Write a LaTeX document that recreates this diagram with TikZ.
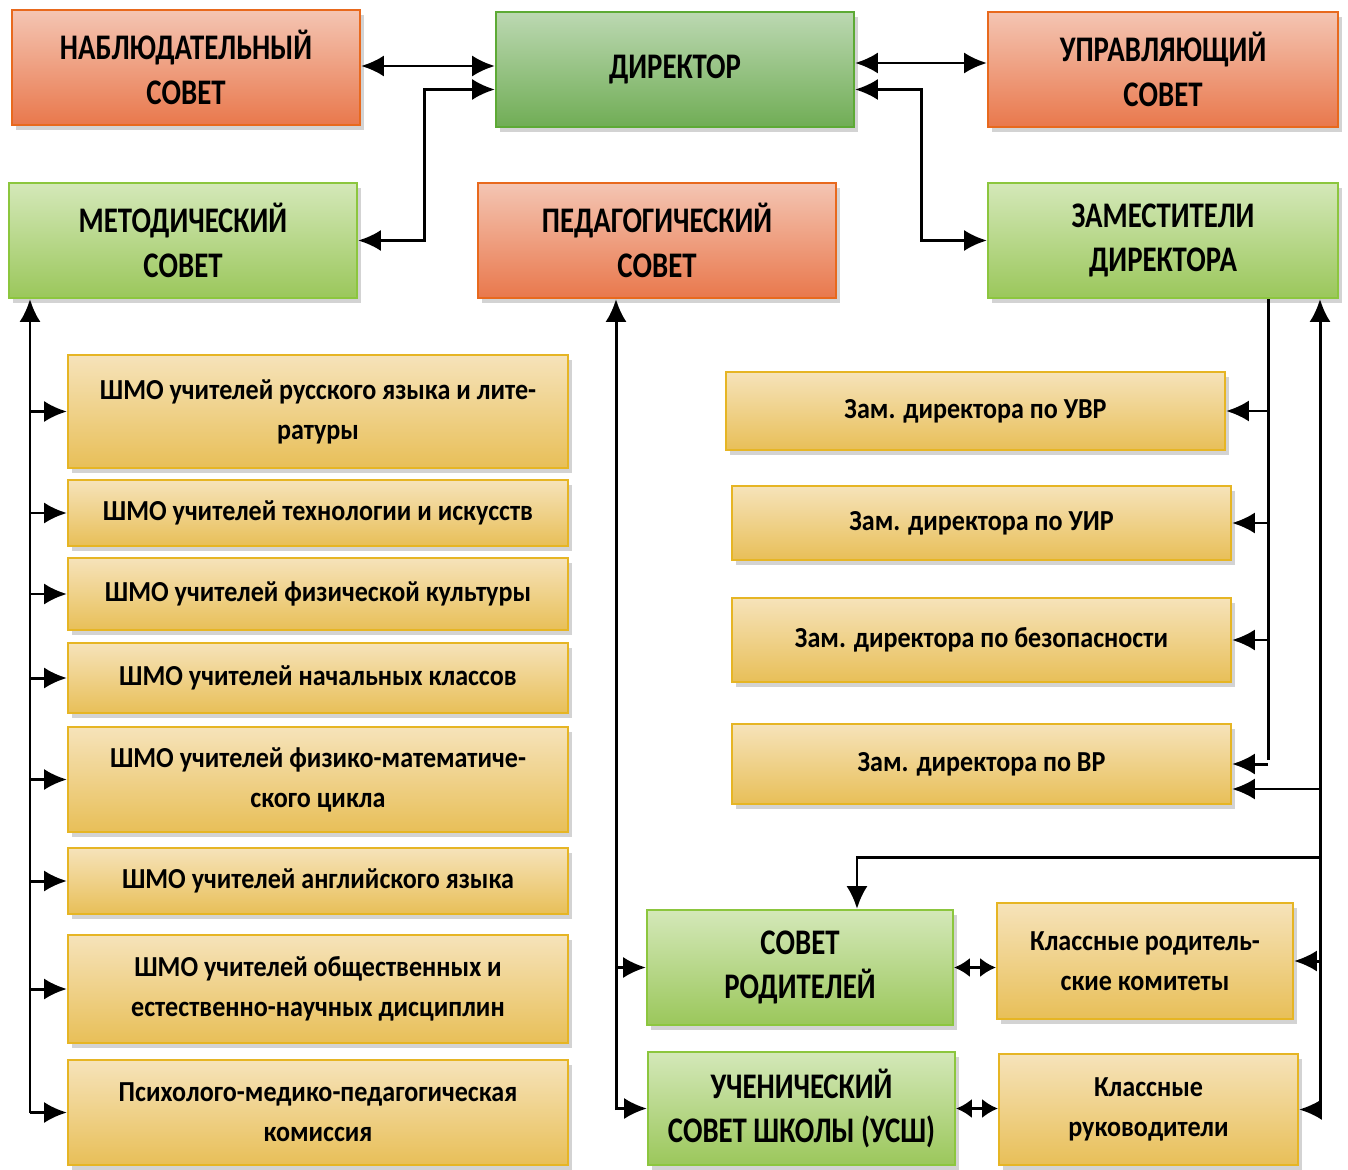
\documentclass[tikz,border=0pt]{standalone}
\usepackage{fontspec}
\setmainfont{Carlito}
\newfontfamily\headfont{Carlito}[FakeStretch=0.80]
\newfontfamily\bodyfont{Carlito}[FakeStretch=0.90]
\usepackage{tikz}
\usetikzlibrary{arrows.meta,shadows,calc}

\definecolor{orbord}{HTML}{E8691D}
\definecolor{ortop}{HTML}{F4C5B3}
\definecolor{orbot}{HTML}{E9784C}
\definecolor{dgbord}{HTML}{5DAA35}
\definecolor{dgtop}{HTML}{BCD8B2}
\definecolor{dgbot}{HTML}{70AD55}
\definecolor{lgbord}{HTML}{8CC63E}
\definecolor{lgtop}{HTML}{D4E8B9}
\definecolor{lgbot}{HTML}{9BC75B}
\definecolor{yebord}{HTML}{E6B524}
\definecolor{yetop}{HTML}{F6E3BA}
\definecolor{yebot}{HTML}{E8BF58}

\begin{document}
\begin{tikzpicture}[x=0.02cm, y=-0.02cm, >={Latex[length=13pt,width=12pt]},
	box/.style={draw, line width=1.2pt, align=center,
		drop shadow={shadow xshift=2.5pt, shadow yshift=-3pt, opacity=0.35}},
	sz/.style 2 args={minimum width=#1*0.02cm, minimum height=#2*0.02cm},
	big/.style={font=\headfont\bfseries\fontsize{20.5}{25.5}\selectfont},
	small/.style={font=\bodyfont\bfseries\fontsize{16.5}{22.7}\selectfont},
	orangebox/.style={box, big, draw=orbord, top color=ortop, bottom color=orbot},
	dirbox/.style={box, big, draw=dgbord, top color=dgtop, bottom color=dgbot},
	greenbox/.style={box, big, draw=lgbord, top color=lgtop, bottom color=lgbot},
	yellowbox/.style={box, small, draw=yebord, top color=yetop, bottom color=yebot},
	link/.style={line width=1.7pt},
	shortlink/.style={line width=1.7pt, >={Latex[length=9pt,width=11pt]}}]
		\useasboundingbox (0,0) rectangle (1348,1169);

		% top rows
		\node[orangebox, sz={348}{115}] (nab) at (186,67.5) {НАБЛЮДАТЕЛЬНЫЙ\\СОВЕТ};
		\node[dirbox, sz={358}{115}] (dir) at (675,69.5) {ДИРЕКТОР};
		\node[orangebox, sz={350}{115}] (upr) at (1163,69.5) {УПРАВЛЯЮЩИЙ\\СОВЕТ};
		\node[greenbox, sz={348}{115}] (met) at (183,240.5) {МЕТОДИЧЕСКИЙ\\СОВЕТ};
		\node[orangebox, sz={358}{115}] (ped) at (657,240.5) {ПЕДАГОГИЧЕСКИЙ\\СОВЕТ};
		\node[greenbox, sz={350}{115}] (zam) at (1163,240.5) {ЗАМЕСТИТЕЛИ\\ДИРЕКТОРА};

		% methodical unions
		\node[yellowbox, sz={500}{113}] (shmo1) at (318,411.5) {ШМО учителей русского языка и лите-\\ратуры};
		\node[yellowbox, sz={500}{66}] (shmo2) at (318,513) {ШМО учителей технологии и искусств};
		\node[yellowbox, sz={500}{72}] (shmo3) at (318,594) {ШМО учителей физической культуры};
		\node[yellowbox, sz={500}{70}] (shmo4) at (318,678) {ШМО учителей начальных классов};
		\node[yellowbox, sz={500}{105}] (shmo5) at (318,779.5) {ШМО учителей физико-математиче-\\ского цикла};
		\node[yellowbox, sz={500}{66}] (shmo6) at (318,881) {ШМО учителей английского языка};
		\node[yellowbox, sz={500}{108}] (shmo7) at (318,989) {ШМО учителей общественных и\\естественно-научных дисциплин};
		\node[yellowbox, sz={500}{105}] (shmo8) at (318,1112.5) {Психолого-медико-педагогическая\\комиссия};

		% deputies
		\node[yellowbox, sz={499}{78}] (uvr) at (975.5,411) {Зам. директора по УВР};
		\node[yellowbox, sz={499}{74}] (uir) at (981.5,523) {Зам. директора по УИР};
		\node[yellowbox, sz={499}{84}] (bez) at (981.5,640) {Зам. директора по безопасности};
		\node[yellowbox, sz={499}{80}] (vr) at (981.5,764) {Зам. директора по ВР};

		% parents and pupils
		\node[greenbox, sz={306}{115}] (sovrod) at (800,967.5) {СОВЕТ\\РОДИТЕЛЕЙ};
		\node[greenbox, sz={307}{113}] (uch) at (801.5,1108.5) {УЧЕНИЧЕСКИЙ\\СОВЕТ ШКОЛЫ (УСШ)};
		\node[yellowbox, sz={296}{116}] (krk) at (1145,961) {Классные родитель-\\ские комитеты};
		\node[yellowbox, sz={299}{111}] (kruk) at (1148.5,1109.5) {Классные\\руководители};

		\coordinate (lbus) at (30,1113);
		\coordinate (pbus) at (616,1110);
		\coordinate (zbus) at (1268,760);
		\coordinate (rbus) at (1320,1108);
		\coordinate (vrin) at ([yshift=-0.5cm]vr.east);
		\coordinate (srtop) at ([xshift=1.14cm]sovrod.north);

		% director links
		\draw[link,<->] ([yshift=0.03cm]nab.east) -- ([yshift=0.03cm]nab.east -| dir.west);
		\draw[link,<->] ([yshift=0.13cm]dir.east) -- ([yshift=0.13cm]dir.east -| upr.west);
		\draw[link,<->] ([yshift=-0.4cm]dir.west) -- ++(-70,0) |- (met.east);
		\draw[link,<->] ([yshift=-0.4cm]dir.east) -- ++(66,0) |- (zam.west);

		% methodical council bus
		\draw[link,->] (lbus) -- (lbus |- met.south);
		\foreach \s in {shmo1,shmo2,shmo3,shmo4,shmo5,shmo6,shmo7,shmo8}
			\draw[link,->] (lbus |- \s.west) -- (\s.west);

		% pedagogical council bus
		\draw[link,->] (pbus) -- (pbus |- ped.south);
		\draw[link,->] (pbus |- sovrod.west) -- (sovrod.west);
		\draw[link,->] (pbus |- uch.west) -- (uch.west);

		% deputies bus
		\draw[link] (zbus |- zam.south) -- (zbus);
		\foreach \s in {uvr,uir,bez,vr}
			\draw[link,->] (zbus |- \s.east) -- (\s.east);

		% right bus
		\draw[link,->] (rbus) -- (rbus |- zam.south);
		\draw[link,->] (vrin -| rbus) -- (vrin);
		\draw[link,->] (rbus |- 0,857) -| (srtop);
		\draw[link,->] (rbus |- krk.east) -- (krk.east);
		\draw[link,->] (rbus |- kruk.east) -- (kruk.east);

		\draw[shortlink,<->] (sovrod.east) -- (sovrod.east -| krk.west);
		\draw[shortlink,<->] (uch.east) -- (uch.east -| kruk.west);
	\end{tikzpicture}
\end{document}
